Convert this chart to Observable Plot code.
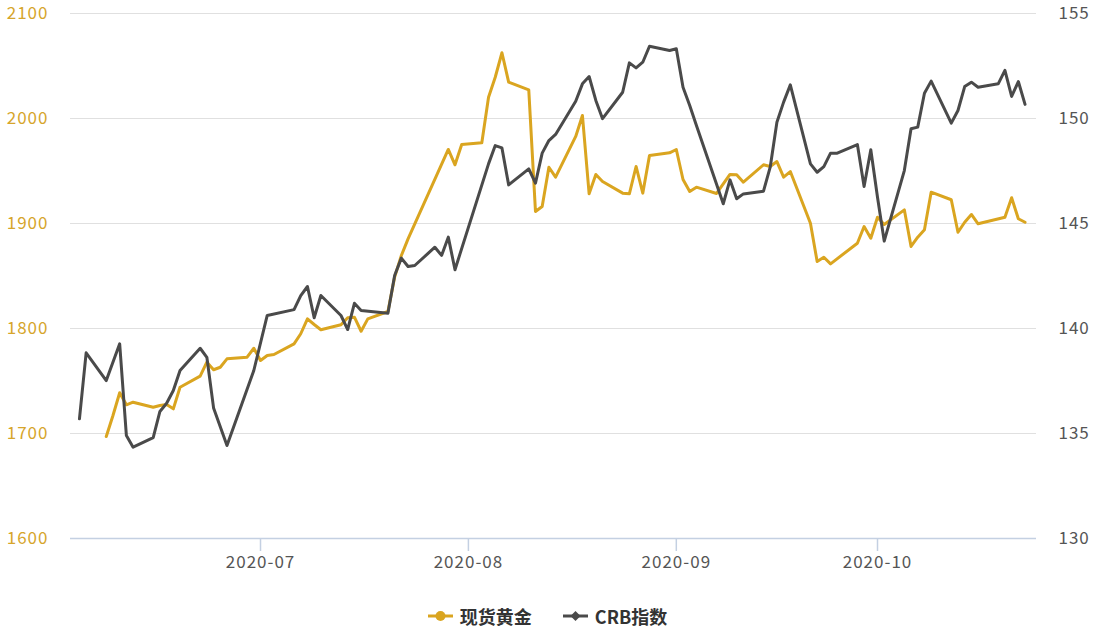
<!DOCTYPE html>
<html><head><meta charset="utf-8">
<script src="https://cdn.jsdelivr.net/npm/d3@7"></script>
<script src="https://cdn.jsdelivr.net/npm/@observablehq/plot@0.6"></script>
<style>
body{margin:0;background:#fff;font-family:"Noto Sans CJK SC","Noto Sans",sans-serif;}
#chart svg{display:block}
#legend{display:flex;justify-content:center;align-items:center;height:30px;gap:31px;font-size:18px;font-weight:bold;color:#333;}
.item{display:flex;align-items:center;gap:7px}
</style></head><body>
<div id="chart"></div>
<div id="legend"></div>
<script>
const goldDates = ["2020-06-08","2020-06-09","2020-06-10","2020-06-11","2020-06-12","2020-06-15","2020-06-16","2020-06-17","2020-06-18","2020-06-19","2020-06-22","2020-06-23","2020-06-24","2020-06-25","2020-06-26","2020-06-29","2020-06-30","2020-07-01","2020-07-02","2020-07-03","2020-07-06","2020-07-07","2020-07-08","2020-07-09","2020-07-10","2020-07-13","2020-07-14","2020-07-15","2020-07-16","2020-07-17","2020-07-20","2020-07-21","2020-07-22","2020-07-23","2020-07-29","2020-07-30","2020-07-31","2020-08-03","2020-08-04","2020-08-05","2020-08-06","2020-08-07","2020-08-10","2020-08-11","2020-08-12","2020-08-13","2020-08-14","2020-08-17","2020-08-18","2020-08-19","2020-08-20","2020-08-21","2020-08-24","2020-08-25","2020-08-26","2020-08-27","2020-08-28","2020-08-31","2020-09-01","2020-09-02","2020-09-03","2020-09-04","2020-09-07","2020-09-09","2020-09-10","2020-09-11","2020-09-14","2020-09-15","2020-09-16","2020-09-17","2020-09-18","2020-09-21","2020-09-22","2020-09-23","2020-09-24","2020-09-28","2020-09-29","2020-09-30","2020-10-01","2020-10-02","2020-10-05","2020-10-06","2020-10-07","2020-10-08","2020-10-09","2020-10-12","2020-10-13","2020-10-14","2020-10-15","2020-10-16","2020-10-20","2020-10-21","2020-10-22","2020-10-23"];
const goldValues = [1697.1,1717.1,1738.8,1727.3,1729.8,1725.0,1726.7,1727.6,1723.5,1744.1,1754.6,1767.9,1760.7,1763.1,1771.1,1772.7,1781.2,1769.5,1774.3,1775.2,1785.4,1795.0,1809.2,1803.8,1798.8,1803.5,1810.2,1810.8,1797.4,1809.2,1816.2,1848.9,1869.5,1885.4,1970.5,1955.9,1975.2,1976.9,2020.3,2039.3,2062.6,2034.6,2027.3,1911.4,1916.2,1953.6,1944.1,1982.9,2002.9,1928.3,1946.7,1940.0,1928.9,1928.3,1954.3,1928.9,1964.8,1967.3,1970.5,1941.9,1930.5,1934.6,1928.6,1946.7,1946.4,1939.3,1955.9,1954.3,1959.0,1944.1,1949.5,1900.3,1863.8,1867.9,1861.6,1881.2,1897.1,1886.0,1906.0,1899.0,1913.0,1878.1,1887.0,1894.0,1929.8,1922.6,1891.7,1901.2,1908.6,1899.7,1906.0,1924.5,1904.5,1901.2];

const crbDates = ["2020-06-04","2020-06-05","2020-06-08","2020-06-10","2020-06-11","2020-06-12","2020-06-15","2020-06-16","2020-06-17","2020-06-18","2020-06-19","2020-06-22","2020-06-23","2020-06-24","2020-06-26","2020-06-30","2020-07-02","2020-07-06","2020-07-07","2020-07-08","2020-07-09","2020-07-10","2020-07-13","2020-07-14","2020-07-15","2020-07-16","2020-07-20","2020-07-21","2020-07-22","2020-07-23","2020-07-24","2020-07-27","2020-07-28","2020-07-29","2020-07-30","2020-08-04","2020-08-05","2020-08-06","2020-08-07","2020-08-10","2020-08-11","2020-08-12","2020-08-13","2020-08-14","2020-08-17","2020-08-18","2020-08-19","2020-08-20","2020-08-21","2020-08-24","2020-08-25","2020-08-26","2020-08-27","2020-08-28","2020-08-31","2020-09-01","2020-09-02","2020-09-03","2020-09-04","2020-09-08","2020-09-09","2020-09-10","2020-09-11","2020-09-14","2020-09-15","2020-09-16","2020-09-17","2020-09-18","2020-09-21","2020-09-22","2020-09-23","2020-09-24","2020-09-25","2020-09-28","2020-09-29","2020-09-30","2020-10-01","2020-10-02","2020-10-05","2020-10-06","2020-10-07","2020-10-08","2020-10-09","2020-10-12","2020-10-13","2020-10-14","2020-10-15","2020-10-16","2020-10-19","2020-10-20","2020-10-21","2020-10-22","2020-10-23"];
const crbValues = [135.70,138.84,137.52,139.27,134.90,134.35,134.80,136.05,136.44,137.05,138.00,139.06,138.63,136.22,134.43,138.00,140.62,140.90,141.57,142.00,140.51,141.57,140.62,139.95,141.20,140.86,140.73,142.52,143.35,142.95,143.00,143.87,143.48,144.35,142.80,147.84,148.71,148.60,146.84,147.60,146.92,148.35,148.95,149.24,150.82,151.65,152.00,150.86,149.99,151.25,152.65,152.41,152.68,153.44,153.24,153.32,151.49,150.62,149.67,145.94,147.08,146.18,146.41,146.54,147.68,149.82,150.78,151.60,147.84,147.44,147.71,148.35,148.35,148.76,146.76,148.51,146.25,144.16,147.52,149.51,149.59,151.20,151.78,149.78,150.38,151.52,151.73,151.49,151.65,152.29,151.05,151.76,150.67];

const leftTicks = [1600,1700,1800,1900,2000,2100];
const rightTicks = [130,135,140,145,150,155];
const xTickLabels = ["2020-07-01","2020-08-01","2020-09-01","2020-10-01"];
const seriesNames = ["现货黄金","CRB指数"];

const goldColor = "#daa520";
const crbColor = "#4a4a4a";

const gold = goldDates.map((d,i)=>({date:new Date(d), v:goldValues[i]}));
const crb = crbDates.map((d,i)=>({date:new Date(d), v:crbValues[i]}));
// map right-axis values onto left scale
const L0=1600, L1=2100, R0=130, R1=155;
const toLeft = r => L0 + (r-R0)*(L1-L0)/(R1-R0);
const toRight = l => R0 + (l-L0)*(R1-R0)/(L1-L0);

const chart = Plot.plot({
  width:1095, height:600,
  marginTop:13, marginBottom:62, marginLeft:70, marginRight:59,
  style:{fontFamily:'"Noto Sans CJK SC","Noto Sans",sans-serif', fontSize:"17px", letterSpacing:"1px", background:"#fff"},
  x:{type:"utc", domain:[new Date("2020-06-02T16:00Z"), new Date("2020-10-24T17:00Z")]},
  y:{domain:[L0,L1]},
  marks:[
    Plot.gridY(leftTicks,{stroke:"#e0e0e0", strokeOpacity:1, strokeWidth:1}),
    Plot.axisY(leftTicks,{anchor:"left", tickSize:0, tickPadding:22, fill:"#d6a52b", label:null, tickFormat:d=>String(d), fontSize:17}),
    Plot.axisY(rightTicks.map(toLeft),{anchor:"right", tickSize:0, tickPadding:22, fill:"#555", label:null, tickFormat:d=>String(Math.round(toRight(d))), fontSize:17, textAnchor:"start"}),
    Plot.ruleY([L0],{stroke:"#c4d0e2", strokeWidth:1.5}),
    Plot.axisX(xTickLabels.map(d=>new Date(d)),{anchor:"bottom", tickSize:13, tickPadding:4, stroke:"#c4d0e2", strokeWidth:1.5, fill:"#555", label:null, tickFormat:d3.utcFormat("%Y-%m"), fontSize:17}),
    Plot.line(gold,{x:"date", y:"v", stroke:goldColor, strokeWidth:3, curve:"linear"}),
    Plot.line(crb,{x:"date", y:d=>toLeft(d.v), stroke:crbColor, strokeWidth:3, curve:"linear"})
  ]
});
document.getElementById("chart").append(chart);

const legend = document.getElementById("legend");
legend.style.paddingTop = "1px";
const markers = [
  `<svg width="25" height="12"><line x1="0" y1="6" x2="25" y2="6" stroke="${goldColor}" stroke-width="3"/><circle cx="12.5" cy="6" r="5" fill="${goldColor}"/></svg>`,
  `<svg width="25" height="12"><line x1="0" y1="6" x2="25" y2="6" stroke="${crbColor}" stroke-width="3"/><path d="M12.5,1 L17.5,6 L12.5,11 L7.5,6 Z" fill="${crbColor}"/></svg>`
];
seriesNames.forEach((n,i)=>{
  const it=document.createElement("div"); it.className="item";
  it.innerHTML = markers[i] + `<span>${n}</span>`;
  legend.append(it);
});
</script>
</body></html>
